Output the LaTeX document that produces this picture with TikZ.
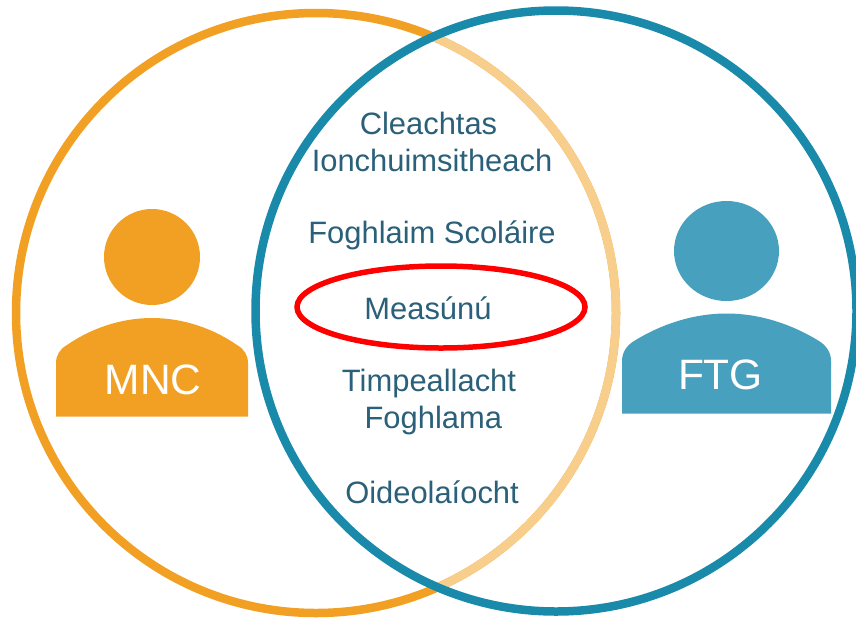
\documentclass[tikz,border=0pt]{standalone}
\usepackage{fontspec}
\setmainfont{Liberation Sans}
\definecolor{orangeC}{HTML}{F2A024}
\definecolor{lightO}{HTML}{F8CE8C}
\definecolor{tealC}{HTML}{1A8AAB}
\definecolor{tealP}{HTML}{47A1BE}
\definecolor{txtC}{HTML}{2A6079}
\tikzset{x=1pt,y=-1pt,
 lab/.style={font=\fontsize{30.9}{37}\selectfont,text=txtC,align=center,inner sep=0pt},
 plab/.style={font=\fontsize{42.5}{46}\selectfont,text=white,inner sep=0pt},
 ring/.style={line width=8.5pt}}
\begin{document}
\begin{tikzpicture}
\useasboundingbox (0,0) rectangle (856,619);
\fill[white] (0,0) rectangle (856,619);
% circles
\draw[orangeC,ring] (316,313) circle[radius=300];
\begin{scope}
\clip (556,311) circle[radius=302];
\draw[lightO,ring] (316,313) circle[radius=300];
\end{scope}
\draw[tealC,ring] (556,311) circle[radius=300.5];
% persons
\fill[orangeC] (152,257) circle[radius=48];
\fill[orangeC] (56,416.5) -- (56,363) .. controls (56,355) and (60,349) .. (67,345) .. controls (90,329) and (120,318) .. (152,318) .. controls (184,318) and (214,329) .. (237,345) .. controls (244,349) and (248,355) .. (248,363) -- (248,416.5) -- cycle;
\node[plab] (mnc) at (153,380) {MNC};
\fill[tealP] (726.5,251) ellipse[x radius=52.5,y radius=50];
\fill[tealP] (622,413.5) -- (622,361) .. controls (622,353) and (626,346) .. (634,341) .. controls (660,325) and (692,313.5) .. (726.5,313.5) .. controls (761,313.5) and (793,325) .. (819,341) .. controls (827,346) and (831,353) .. (831,361) -- (831,413.5) -- cycle;
\node[plab] (ftg) at (720.5,375) {FTG};
% labels
\node[lab] (a) at (432,141.5) {Cleachtas\hspace*{7pt}\\Ionchuimsitheach};
\node[lab] (b) at (432,235.5) {Foghlaim Scoláire};
\node[lab] (c) at (428,308) {Measúnú};
\node[lab] (d) at (429,402) {Timpeallacht\\\ Foghlama};
\node[lab] (e) at (432,492) {Oideolaíocht};
\draw[red,line width=5.5pt] (441,307) ellipse[x radius=144,y radius=41];
\end{tikzpicture}
\end{document}
